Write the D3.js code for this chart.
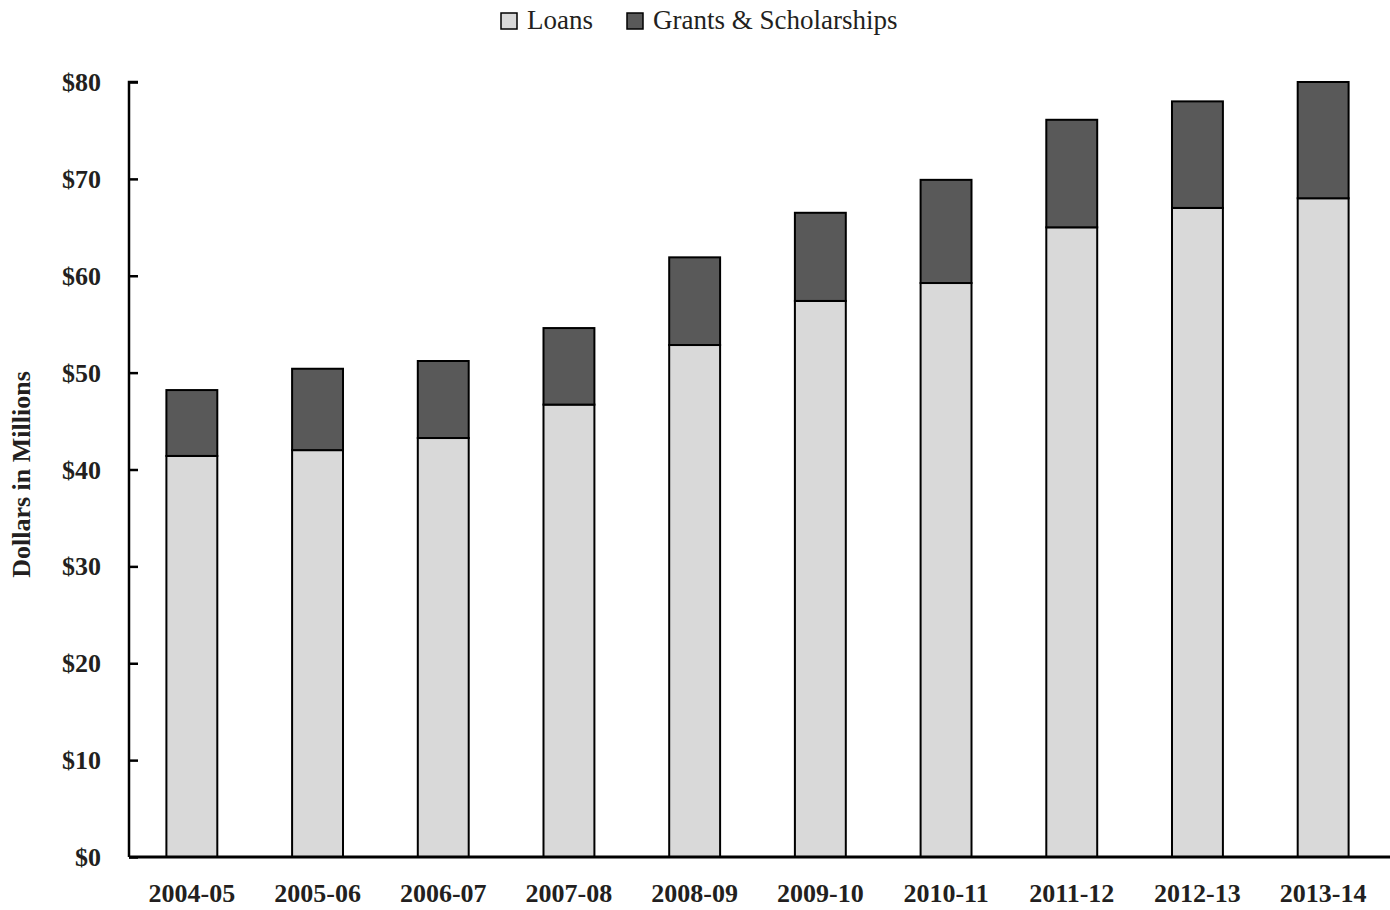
<!DOCTYPE html>
<html><head><meta charset="utf-8">
<script src="https://cdn.jsdelivr.net/npm/d3@7"></script>
<style>body{margin:0;background:#fff}svg{display:block}text{font-family:"Liberation Serif","DejaVu Serif",serif;fill:#231f20}</style>
</head><body><svg id="c" width="1390" height="910"></svg>
<script>
const categories = ["2004-05","2005-06","2006-07","2007-08","2008-09","2009-10","2010-11","2011-12","2012-13","2013-14"];
const loans = [41.4,42.0,43.25,46.7,52.85,57.4,59.25,65.0,67.0,68.0];
const grants = [6.8,8.4,7.95,7.9,9.05,9.1,10.65,11.1,11.0,12.0];
const yTicks = [0,10,20,30,40,50,60,70,80];
const seriesNames = ["Loans","Grants & Scholarships"];
const colors = ["#d9d9d9","#595959"];

const svg = d3.select("#c");
const m = {l:129, r:4, t:82, b:53};
const W = 1390, H = 910;
const x = d3.scaleBand().domain(categories).range([m.l, W - m.r]).paddingInner(0.595).paddingOuter(0.2975);
const y = d3.scaleLinear().domain([0,80]).range([H - m.b, m.t]);

const data = categories.map((c,i)=>({cat:c, Loans:loans[i], "Grants & Scholarships":grants[i]}));
const stack = d3.stack().keys(seriesNames)(data);

svg.append("g").selectAll("g").data(stack).join("g")
  .attr("fill",(d,i)=>colors[i])
  .selectAll("rect").data(d=>d).join("rect")
  .attr("x",d=>x(d.data.cat)).attr("width",x.bandwidth())
  .attr("y",d=>y(d[1])).attr("height",d=>y(d[0])-y(d[1]))
  .attr("stroke","#000").attr("stroke-width",2);

// y axis
const ya = svg.append("g").attr("transform",`translate(${m.l},0)`)
  .call(d3.axisRight(y).tickValues(yTicks).tickSize(9).tickFormat(d=>"$"+d));
ya.select(".domain").attr("stroke","#000").attr("stroke-width",2.5).attr("d",`M9,${y(80)}H0V${y(0)}`);
ya.selectAll(".tick line").attr("stroke","#000").attr("stroke-width",2.5);
ya.selectAll(".tick text").attr("x",-28).attr("text-anchor","end").attr("dy","0.33em")
  .style("font-size","26px").style("font-weight","bold").attr("fill","#231f20");

// x axis
const xa = svg.append("g").attr("transform",`translate(0,${y(0)})`)
  .call(d3.axisBottom(x).tickSize(0));
xa.select(".domain").attr("stroke","#000").attr("stroke-width",3).attr("d",`M${m.l},0H${W}`);
xa.selectAll(".tick text").attr("y",36).attr("dy","0.33em")
  .style("font-size","26px").style("font-weight","bold").attr("fill","#231f20");

// y label
svg.append("text").attr("transform",`translate(21,${(y(0)+y(80))/2 + 5}) rotate(-90)`)
  .attr("text-anchor","middle").attr("dy","0.35em")
  .style("font-size","26px").style("font-weight","bold").text("Dollars in Millions");

// legend
const leg = [{n:seriesNames[0],c:colors[0],x:501},{n:seriesNames[1],c:colors[1],x:627}];
const lg = svg.append("g");
leg.forEach(l=>{
  lg.append("rect").attr("x",l.x).attr("y",13).attr("width",16).attr("height",16)
    .attr("fill",l.c).attr("stroke","#000").attr("stroke-width",1.5);
  lg.append("text").attr("x",l.x+26).attr("y",20).attr("dy","0.35em")
    .style("font-size","27px").text(l.n);
});
</script></body></html>
